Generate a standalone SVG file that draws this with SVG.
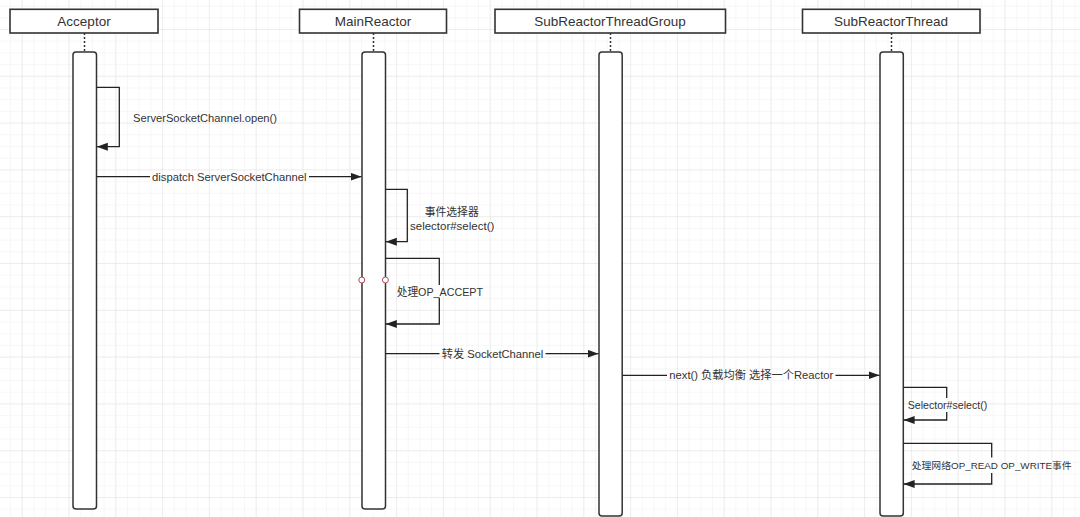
<svg xmlns="http://www.w3.org/2000/svg" width="1080" height="517" viewBox="0 0 1080 517">
<defs>
<pattern id="minor" x="21.7" y="29" width="11.7" height="11.7" patternUnits="userSpaceOnUse">
<path d="M0,0 H11.7 M0,0 V11.7" fill="none" stroke="#efefef" stroke-width="1"/>
</pattern>
<pattern id="major" x="21.7" y="29" width="46.8" height="46.8" patternUnits="userSpaceOnUse">
<path d="M0,0 H46.8 M0,0 V46.8" fill="none" stroke="#e3e3e3" stroke-width="1"/>
</pattern>
<marker id="arr" markerUnits="userSpaceOnUse" markerWidth="12" markerHeight="9" refX="11" refY="4" orient="auto">
<path d="M0,0 L11,4 L0,8 z" fill="#222"/>
</marker>
<style>
.hdr{fill:#fff;stroke:#333;stroke-width:1.6}
.act{fill:#fff;stroke:#333;stroke-width:1.5}
.life{stroke:#333;stroke-width:1.5;stroke-dasharray:2 2;fill:none}
.ht{font-family:"Liberation Sans",Arial,"Noto Sans CJK SC",sans-serif;font-size:13.5px;fill:#333;text-anchor:middle}
.lt{font-family:"Liberation Sans",Arial,"Noto Sans CJK SC",sans-serif;font-size:11.5px;fill:#333}
.sm{font-size:9.6px}
.msg{fill:none;stroke:#222;stroke-width:1.3}
.hnd{fill:#fff;stroke:#b04a5a;stroke-width:1}
</style>
</defs>
<rect width="1080" height="517" fill="#fff"/>
<rect width="1080" height="517" fill="url(#minor)"/>
<rect width="1080" height="517" fill="url(#major)"/>

<g id="acceptor">
<rect class="hdr" x="10" y="9.3" width="148" height="23.7"/>
<text class="ht" x="84" y="25.8">Acceptor</text>
<path class="life" d="M84.5,33 V52"/>
<rect class="act" x="73" y="52" width="23.5" height="457" rx="3"/>
</g>

<g id="mainreactor">
<rect class="hdr" x="299.5" y="9.3" width="147" height="23.7"/>
<text class="ht" x="373" y="25.8">MainReactor</text>
<path class="life" d="M373.5,33 V52"/>
<rect class="act" x="362" y="52" width="23.5" height="457" rx="3"/>
</g>

<g id="subreactorthreadgroup">
<rect class="hdr" x="495" y="9.3" width="230.5" height="23.7"/>
<text class="ht" x="610" y="25.8">SubReactorThreadGroup</text>
<path class="life" d="M610.5,33 V52"/>
<rect class="act" x="599" y="52" width="23.2" height="464" rx="3"/>
</g>

<g id="subreactorthread">
<rect class="hdr" x="802.5" y="9.3" width="177.5" height="23.7"/>
<text class="ht" x="891" y="25.8">SubReactorThread</text>
<path class="life" d="M891.5,33 V52"/>
<rect class="act" x="880" y="52" width="23.3" height="464" rx="3"/>
</g>

<g id="connectors">
<path class="msg" d="M96.5,87.3 H119.3 V146.7 H96.8" marker-end="url(#arr)"/>
<path class="msg" d="M96.5,176.7 H150"/>
<path class="msg" d="M309,176.7 H361.5" marker-end="url(#arr)"/>
<path class="msg" d="M385.5,189.3 H407.3 V241.7 H385.8" marker-end="url(#arr)"/>
<path class="msg" d="M385.5,258.3 H439.3 V285"/>
<path class="msg" d="M439.3,298 V324 H385.8" marker-end="url(#arr)"/>
<path class="msg" d="M385.5,353.7 H439.5"/>
<path class="msg" d="M545.5,353.7 H598.5" marker-end="url(#arr)"/>
<path class="msg" d="M622.2,375.3 H667"/>
<path class="msg" d="M835.5,375.3 H879.5" marker-end="url(#arr)"/>
<path class="msg" d="M903.3,387.3 H946.7 V398"/>
<path class="msg" d="M946.7,412 V420 H903.6" marker-end="url(#arr)"/>
<path class="msg" d="M903.3,443.3 H991.7 V457.5"/>
<path class="msg" d="M991.7,473 V484 H903.6" marker-end="url(#arr)"/>
<circle class="hnd" cx="361.8" cy="280" r="3"/>
<circle class="hnd" cx="385.4" cy="280" r="3"/>
</g>

<g id="labels">
<text class="lt" x="133" y="121.8" textLength="144" lengthAdjust="spacingAndGlyphs">ServerSocketChannel.open()</text>
<text class="lt" x="152" y="180.9" textLength="154.5" lengthAdjust="spacingAndGlyphs">dispatch ServerSocketChannel</text>
<text class="lt" x="424.7" y="216.2" textLength="54" lengthAdjust="spacingAndGlyphs">事件选择器</text>
<text class="lt" x="410" y="229.9" textLength="84.3" lengthAdjust="spacingAndGlyphs">selector#select()</text>
<text class="lt" x="396.7" y="296.4" textLength="86.3" lengthAdjust="spacingAndGlyphs">处理OP_ACCEPT</text>
<text class="lt" x="441.7" y="357.8" textLength="101.6" lengthAdjust="spacingAndGlyphs">转发 SocketChannel</text>
<text class="lt" x="669.3" y="379.4" textLength="164" lengthAdjust="spacingAndGlyphs">next() 负载均衡 选择一个Reactor</text>
<text class="lt" x="907.7" y="409" textLength="79.6" lengthAdjust="spacingAndGlyphs">Selector#select()</text>
<text class="lt sm" x="911.7" y="468.8" textLength="160" lengthAdjust="spacingAndGlyphs">处理网络OP_READ OP_WRITE事件</text>
</g>
</svg>
